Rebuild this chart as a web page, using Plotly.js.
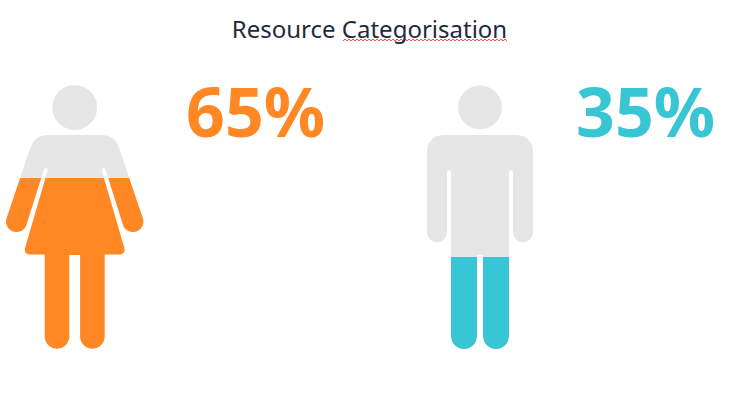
<!DOCTYPE html>
<html><head><meta charset="utf-8">
<script src="https://cdn.plot.ly/plotly-3.0.1.min.js"></script>
<style>html,body{margin:0;padding:0;background:#fff}</style></head>
<body><div id="chart" style="width:753px;height:418px"></div>
<script>
// ---- values ----
const categories = ["Female", "Male"];
const shares = [65, 35];
const fillColors = ["#FF8724", "#38C6D4"];
const titleText = "Resource Categorisation";

// ---- pictogram geometry (pixel space of the fixed axes) ----
const GREY = "#E6E6E6", TOP = 86, BASE = 349;
function arc(cx, cy, r, a0, a1) {
  const out = [], n = 24;
  for (let i = 0; i <= n; i++) {
    const a = (a0 + (a1 - a0) * i / n) * Math.PI / 180;
    out.push([cx + r * Math.cos(a), cy + r * Math.sin(a)]);
  }
  return out;
}
function corner(p0, c, p1, r) {
  const u = (a, b) => { const d = Math.hypot(b[0]-a[0], b[1]-a[1]); return [(b[0]-a[0])/d, (b[1]-a[1])/d]; };
  const a = u(c, p0), b = u(c, p1), s = [c[0]+a[0]*r, c[1]+a[1]*r], e = [c[0]+b[0]*r, c[1]+b[1]*r], out = [];
  for (let i = 0; i <= 10; i++) {
    const t = i / 10, m = 1 - t;
    out.push([m*m*s[0] + 2*m*t*c[0] + t*t*e[0], m*m*s[1] + 2*m*t*c[1] + t*t*e[1]]);
  }
  return out;
}
const womanHalf = [].concat(
  [[0, 135]],
  corner([0, 135], [40, 135], [43.7, 146], 14),
  arc(58.2, 221.5, 10.5, -18.7, 161.3),
  arc(28.9, 170, 1.9, -18, -198),
  corner([27.1, 170.6], [51.6, 254.6], [30, 254.6], 8),
  [[30, 254.6], [30, 336.4]],
  arc(17.7, 336.4, 12.3, 0, 180),
  [[5.4, 255], [0, 255]]
);
const manHalf = [].concat(
  [[0, 135]],
  corner([0, 135], [53, 135], [53, 200], 18),
  arc(43, 232.2, 10, 0, 180),
  arc(31, 172.5, 2, 0, -180),
  [[29, 336]],
  arc(16, 336, 13, 0, 180),
  [[3, 255], [0, 255]]
);
const figures = [
  {cx: 74.7, half: womanHalf, headR: 22.5, labelX: 256},
  {cx: 480,  half: manHalf,   headR: 22,   labelX: 646}
];
function mirror(half, cx) {
  const right = half.map(p => [cx + p[0], p[1]]);
  const left = half.slice().reverse().map(p => [cx - p[0], p[1]]);
  return right.concat(left);
}
// keep the part of a polygon above (sign=-1) or below (sign=1) a horizontal level
function clip(poly, level, sign) {
  const out = [], inside = p => sign * (p[1] - level) >= 0;
  poly.forEach((p, i) => {
    const q = poly[(i + 1) % poly.length];
    if (inside(p)) out.push(p);
    if (inside(p) !== inside(q)) {
      const t = (level - p[1]) / (q[1] - p[1]);
      out.push([p[0] + t * (q[0] - p[0]), level]);
    }
  });
  return out;
}
function polyTrace(poly, color, name) {
  if (!poly.length) return null;
  return {
    type: "scatter", mode: "lines", name: name, hoverinfo: "skip", showlegend: false,
    x: poly.map(p => p[0]).concat([poly[0][0]]),
    y: poly.map(p => p[1]).concat([poly[0][1]]),
    fill: "toself", fillcolor: color, line: {width: 0, color: color, simplify: false}
  };
}
const traces = [];
figures.forEach((f, i) => {
  const level = BASE - shares[i] / 100 * (BASE - TOP);
  const head = arc(f.cx, 107.4, f.headR, 0, 360);
  [head, mirror(f.half, f.cx)].forEach(poly => {
    traces.push(polyTrace(clip(poly, level, -1), GREY, categories[i] + " rest"));
    traces.push(polyTrace(clip(poly, level, 1), fillColors[i], categories[i] + " share"));
  });
});
// spell-check squiggle under the second word of the title
const sx = [], sy = [];
for (let x = 343, k = 0; x <= 507; x += 2, k++) { sx.push(x); sy.push(k % 2 ? 39.2 : 40.8); }
traces.push({type: "scatter", mode: "lines", x: sx, y: sy, hoverinfo: "skip", showlegend: false,
  line: {color: "#F04848", width: 1, simplify: false}});

const layout = {
  width: 753, height: 418,
  margin: {l: 0, r: 0, t: 0, b: 0},
  paper_bgcolor: "#fff", plot_bgcolor: "#fff",
  showlegend: false,
  title: {text: titleText, x: 369.5 / 753, xanchor: "center", y: 1 - 30 / 418, yanchor: "middle",
    font: {family: "Noto Sans", size: 24, color: "#1F2A3D"}},
  xaxis: {range: [0, 753], visible: false, fixedrange: true},
  yaxis: {range: [418, 0], visible: false, fixedrange: true},
  annotations: figures.map((f, i) => ({
    x: f.labelX - 0.5, y: 110, xref: "x", yref: "y", showarrow: false, xanchor: "center", yanchor: "middle",
    text: "<b>" + shares[i] + "%</b>",
    font: {family: "Noto Sans", size: 68, color: fillColors[i]}
  }))
};
Plotly.newPlot("chart", traces.filter(Boolean), layout, {displayModeBar: false, staticPlot: true});
</script></body></html>
